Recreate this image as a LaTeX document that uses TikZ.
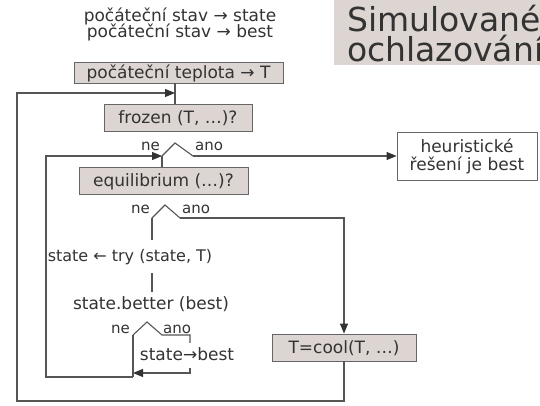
\documentclass[tikz,border=0pt]{standalone}
\usepackage{fontspec}
\setmainfont{DejaVu Sans}
\usetikzlibrary{arrows.meta}
\definecolor{txt}{HTML}{333333}
\definecolor{boxfill}{HTML}{DCD5D1}
\definecolor{boxline}{HTML}{666666}
\definecolor{linec}{HTML}{555555}
\begin{document}
\begin{tikzpicture}[x=1pt,y=-1pt,
  titlefont/.style={text=txt, font=\fontsize{33}{30}\selectfont, inner sep=0pt},
  txtnode/.style={text=txt, font=\fontsize{17}{18}\selectfont, inner sep=0pt, text height=13pt, text depth=4pt},
  lbl/.style={text=txt, font=\fontsize{15}{16}\selectfont, inner sep=0pt},
  procbox/.style={txtnode, draw=boxline, fill=boxfill, line width=0.9pt, text height=14pt, text depth=2pt},
  endbox/.style={text=txt, font=\fontsize{17}{18}\selectfont, draw=boxline, fill=white, line width=0.9pt, align=center, inner sep=0pt},
  conn/.style={draw=linec, line width=1.1pt},
  arr/.style={conn, -{Triangle[length=10pt,width=8pt,color=txt]}}]
\useasboundingbox (0,0) rectangle (540,406);
\clip (0,0) rectangle (540,406);
\fill[white] (0,0) rectangle (540,406);
% title
\fill[boxfill] (334,0) rectangle (540,65);
\node[titlefont, anchor=base west] (title1) at (347,32) {Simulované};
\node[titlefont, anchor=base west] (title2) at (347,62) {ochlazování};
% initial texts
\node[txtnode, anchor=base] (init1) at (180,22) {počáteční stav → state};
\node[txtnode, anchor=base] (init2) at (180,38) {počáteční stav → best};
% boxes
\node[procbox, minimum width=209pt, minimum height=21pt] (teplota) at (178.5,72.5) {počáteční teplota → T};
\node[procbox, minimum width=148pt, minimum height=27pt] (frozen) at (178,117.5) {frozen (T, …)?};
\node[procbox, minimum width=169pt, minimum height=27pt] (equil) at (163.5,180.5) {equilibrium (…)?};
\node[procbox, minimum width=144pt, minimum height=27pt] (cool) at (344,347.5) {T=cool(T, …)};
\node[endbox, minimum width=140pt, minimum height=48pt] (heur) at (467,156) {heuristické\\řešení je best};
% plain texts
\node[txtnode, font=\fontsize{16}{18}\selectfont, anchor=base, inner ysep=8pt] (try) at (130,261) {state ← try (state, T)};
\node[txtnode, anchor=base, inner ysep=4pt] (better) at (151,309) {state.better (best)};
\node[txtnode, anchor=base, inner ysep=4pt] (sb) at (187,360) {state→best};
% labels
\node[lbl, anchor=base east] (ne1) at (160,151) {ne};
\node[lbl, anchor=base west] (ano1) at (195,151) {ano};
\node[lbl, anchor=base east] (ne2) at (150,213) {ne};
\node[lbl, anchor=base west] (ano2) at (182,213) {ano};
\node[lbl, anchor=base east] (ne3) at (130,333) {ne};
\node[lbl, anchor=base west] (ano3) at (163,333) {ano};
% coordinates
\coordinate (c1l) at (162,156); \coordinate (c1t) at (175,143); \coordinate (c1r) at (193,156);
\coordinate (c2l) at (152,218); \coordinate (c2t) at (165,205); \coordinate (c2r) at (180,218);
\coordinate (c3l) at (133,335); \coordinate (c3t) at (147,322); \coordinate (c3r) at (162,335);
\coordinate (c3e) at (190,335); \coordinate (c3b) at (190,373);
\coordinate (L1a) at (17,401); \coordinate (L1b) at (17,93); \coordinate (L1c) at (175,93);
\coordinate (L2a) at (133,377); \coordinate (L2b) at (46,377); \coordinate (L2c) at (46,156);
% connectors
\draw[conn] (teplota.south -| L1c) -- (frozen.north -| L1c);
\draw[arr] (cool.south) |- (L1a) -- (L1b) -- (L1c);
\draw[conn] (c1l) -- (c1t) -- (c1r);
\draw[arr] (c1r) -- (c1r -| heur.west);
\draw[arr] (L2a) -- (L2b) -- (L2c) -- (c1l);
\draw[conn] (c1l) -- (c1l |- equil.north);
\draw[conn] (c2l) -- (c2t) -- (c2r);
\draw[arr] (c2r) -| (cool.north);
\draw[conn] (c2l) -- (c2l |- try.north);
\draw[conn] (try.south -| c2l) -- (c2l |- better.north);
\draw[conn] (c3l) -- (c3t) -- (c3r) -- (c3e) -- (c3e |- sb.north);
\draw[arr] (sb.south -| c3e) -- (c3b) -- (c3b -| c3l);
\draw[conn] (c3l) -- (L2a);
\end{tikzpicture}
\end{document}
